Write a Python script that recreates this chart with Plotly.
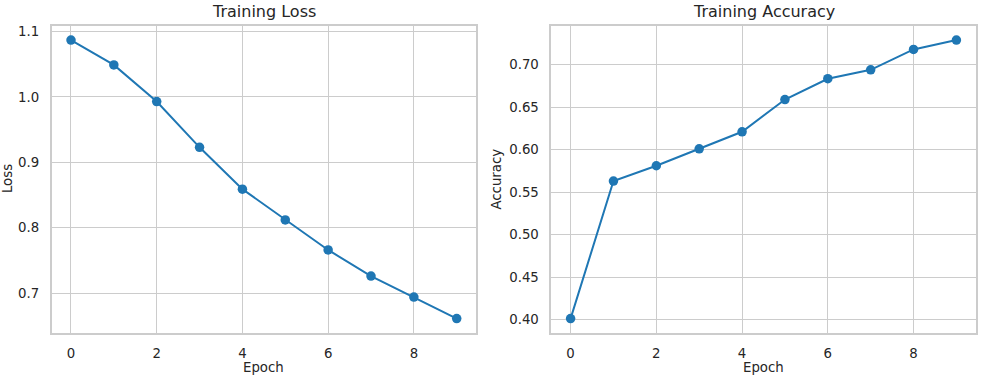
import plotly.graph_objects as go

epochs = [0, 1, 2, 3, 4, 5, 6, 7, 8, 9]
loss = [1.087, 1.049, 0.993, 0.923, 0.859, 0.812, 0.766, 0.726, 0.694, 0.661]
accuracy = [0.401, 0.563, 0.581, 0.601, 0.621, 0.659, 0.6835, 0.694, 0.718, 0.729]

loss_ticks = [0.7, 0.8, 0.9, 1.0, 1.1]
acc_ticks = [0.40, 0.45, 0.50, 0.55, 0.60, 0.65, 0.70]
x_ticks = [0, 2, 4, 6, 8]

W, H = 984, 376
LINE = "#1f77b4"
GRID = "#cccccc"
TXT = "#262626"
FONT = "DejaVu Sans"

fig = go.Figure()
fig.add_trace(go.Scatter(x=epochs, y=loss, mode="lines+markers",
                         line=dict(color=LINE, width=2),
                         marker=dict(size=9.5, color=LINE),
                         xaxis="x", yaxis="y", showlegend=False))
fig.add_trace(go.Scatter(x=epochs, y=accuracy, mode="lines+markers",
                         line=dict(color=LINE, width=2),
                         marker=dict(size=9.5, color=LINE),
                         xaxis="x2", yaxis="y2", showlegend=False))

def px_x(p):
    return p / W

def px_y(p):
    return 1 - p / H

L1, R1 = 51.7, 476.0
L2, R2 = 551.3, 975.7
T, B = 24.3, 332.3

axis_common = dict(showgrid=True, gridcolor=GRID, gridwidth=1.3,
                   showline=True, linecolor=GRID, linewidth=1.6, mirror=True,
                   zeroline=False, ticks="", ticklabelstandoff=8,
                   tickfont=dict(family=FONT, size=13.3, color=TXT))

def span(vals):
    lo, hi = min(vals), max(vals)
    m = (hi - lo) * 0.05
    return [lo - m, hi + m]

fig.update_layout(
    width=W, height=H,
    margin=dict(l=0, r=0, t=0, b=0),
    paper_bgcolor="white", plot_bgcolor="white",
    xaxis=dict(domain=[px_x(L1), px_x(R1)], range=span(epochs), tickvals=x_ticks,
               anchor="y", **axis_common),
    yaxis=dict(domain=[px_y(B), px_y(T)], range=span(loss), tickvals=loss_ticks,
               tickformat=".1f", anchor="x", **axis_common),
    xaxis2=dict(domain=[px_x(L2), px_x(R2)], range=span(epochs), tickvals=x_ticks,
                anchor="y2", **axis_common),
    yaxis2=dict(domain=[px_y(B), px_y(T)], range=span(accuracy), tickvals=acc_ticks,
                tickformat=".2f", anchor="x2", **axis_common),
)

def ann(text, x, y, size, angle=0):
    fig.add_annotation(text=text, x=px_x(x), y=px_y(y), xref="paper", yref="paper",
                       showarrow=False, xanchor="center", yanchor="middle",
                       textangle=angle, font=dict(family=FONT, size=size, color=TXT))

ann("Training Loss", (L1 + R1) / 2, 10, 16)
ann("Training Accuracy", (L2 + R2) / 2, 10, 16)
ann("Epoch", (L1 + R1) / 2, 367, 13.3)
ann("Epoch", (L2 + R2) / 2, 367, 13.3)
ann("Loss", 7, 178, 13.3, -90)
ann("Accuracy", 496.5, 178, 13.3, -90)

fig.write_html("out.html",
               config={"displayModeBar": False},
               post_script="document.body.style.margin='0';document.body.style.overflow='hidden';")
